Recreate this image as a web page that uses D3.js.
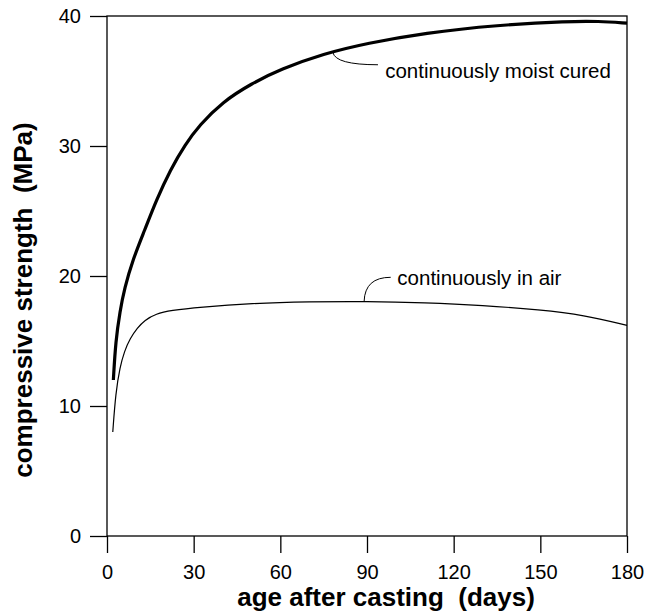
<!DOCTYPE html>
<html>
<head>
<meta charset="utf-8">
<script src="https://cdn.jsdelivr.net/npm/d3@7"></script>
<style>
  body { margin: 0; background: #fff; }
  text { font-family: "Liberation Sans", Arial, sans-serif; }
</style>
</head>
<body>
<div id="chart"></div>
<script>
// age (days) and strength (MPa)
var moistDays = [2.2, 3, 4.5, 6, 9, 13, 17, 22, 27, 32, 40, 50, 60, 75, 90, 110, 135, 160, 170, 180];
var moistMPa  = [12.0, 15.0, 17.3, 19.0, 21.3, 23.5, 25.8, 28.2, 30.1, 31.6, 33.4, 34.8, 35.9, 37.1, 37.9, 38.7, 39.3, 39.6, 39.6, 39.45];

var airDays = [2, 3, 4.5, 6, 8, 10.5, 13, 17, 22, 32, 50, 70, 90, 110, 130, 150, 165, 180];
var airMPa  = [8.0, 11.0, 13.0, 14.2, 15.2, 16.0, 16.6, 17.1, 17.35, 17.6, 17.9, 18.02, 18.05, 17.95, 17.75, 17.4, 17.0, 16.2];

var xTicks = [0, 30, 60, 90, 120, 150, 180];
var yTicks = [0, 10, 20, 30, 40];

var width = 646, height = 614;
var margin = {top: 16, right: 19, bottom: 78, left: 107};

var svg = d3.select("#chart")
  .append("svg")
    .attr("width", width)
    .attr("height", height);

var x = d3.scaleLinear()
  .domain([0, 180])
  .range([margin.left, width - margin.right]);

var y = d3.scaleLinear()
  .domain([0, 40])
  .range([height - margin.bottom, margin.top]);

// frame
svg.append("rect")
  .attr("x", x(0))
  .attr("y", y(40))
  .attr("width", x(180) - x(0))
  .attr("height", y(0) - y(40))
  .style("fill", "none")
  .style("stroke", "#000")
  .style("stroke-width", 1.3);

var xAxis = svg.append("g")
  .attr("transform", "translate(0," + y(0) + ")")
  .call(d3.axisBottom(x).tickValues(xTicks).tickSize(17).tickPadding(12));

var yAxis = svg.append("g")
  .attr("transform", "translate(" + x(0) + ",0)")
  .call(d3.axisLeft(y).tickValues(yTicks).tickSize(17).tickPadding(9));

[xAxis, yAxis].forEach(function(g) {
  g.select(".domain").remove();
  g.selectAll("line").style("stroke", "#000").style("stroke-width", 1.3);
  g.selectAll("text")
    .style("font-family", "'Liberation Sans', Arial, sans-serif")
    .style("font-size", "20px")
    .style("fill", "#000");
});

// curves
var line = d3.line()
  .x(function(d) { return x(d[0]); })
  .y(function(d) { return y(d[1]); })
  .curve(d3.curveBasis);

svg.append("path")
  .datum(d3.zip(moistDays, moistMPa))
  .attr("d", line)
  .style("fill", "none")
  .style("stroke", "#000")
  .style("stroke-width", 3.2);

svg.append("path")
  .datum(d3.zip(airDays, airMPa))
  .attr("d", line)
  .style("fill", "none")
  .style("stroke", "#000")
  .style("stroke-width", 1.2);

// labels with leader lines
function leader(d0, v0, d1, v1, cx, cy) {
  var p = d3.path();
  p.moveTo(x(d0), y(v0));
  p.quadraticCurveTo(x(cx), y(cy), x(d1), y(v1));
  svg.append("path")
    .attr("d", p.toString())
    .style("fill", "none")
    .style("stroke", "#000")
    .style("stroke-width", 1);
}

leader(78.2, 37.2, 93.8, 36.25, 79, 36.25);
svg.append("text")
  .attr("x", x(96.3))
  .attr("y", y(35.2))
  .style("font-size", "20.5px")
  .text("continuously moist cured");

leader(89, 18.05, 98.2, 19.9, 89.3, 19.9);
svg.append("text")
  .attr("x", x(100.5))
  .attr("y", y(19.3))
  .style("font-size", "20.5px")
  .text("continuously in air");

// axis titles
svg.append("text")
  .attr("x", 386)
  .attr("y", 606)
  .attr("text-anchor", "middle")
  .style("font-size", "26px")
  .style("font-weight", "bold")
  .text("age after casting\u00a0\u00a0(days)");

svg.append("text")
  .attr("transform", "translate(32,300) rotate(-90)")
  .attr("text-anchor", "middle")
  .style("font-size", "26px")
  .style("font-weight", "bold")
  .text("compressive strength\u00a0\u00a0(MPa)");
</script>
</body>
</html>
